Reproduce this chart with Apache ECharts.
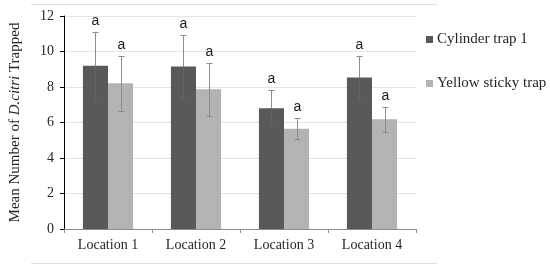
<!DOCTYPE html>
<html><head><meta charset="utf-8">
<script src="https://cdn.jsdelivr.net/npm/echarts@6/dist/echarts.min.js"></script>
<style>html,body{margin:0;padding:0;background:#fff}#c{width:550px;height:268px}</style>
</head><body><div id="c"></div>
<script>
const categories = ['Location 1', 'Location 2', 'Location 3', 'Location 4'];
const seriesNames = ['Cylinder trap 1', 'Yellow sticky trap'];
const cylinderMeans = [9.2, 9.16, 6.8, 8.53];
const cylinderErr = [1.92, 1.79, 1.01, 1.22];
const stickyMeans = [8.21, 7.87, 5.65, 6.18];
const stickyErr = [1.56, 1.5, 0.6, 0.7];
const sigLetters1 = ['a', 'a', 'a', 'a'];
const sigLetters2 = ['a', 'a', 'a', 'a'];
const yTicks = { min: 0, max: 12, interval: 2 };

const colors = ['#595959', '#b3b3b3'];
const catGap = 0.43;
const serif = '"Liberation Serif", "Times New Roman", serif';

function errSeries(means, errs, letters, sign, innerColor) {
  return {
    type: 'custom',
    name: 'err' + sign,
    z: 5,
    data: means.map((m, i) => [i, m, errs[i], letters[i]]),
    renderItem: function (params, api) {
      const i = api.value(0), m = api.value(1), e = api.value(2);
      const catW = api.size([1, 0])[0];
      const barW = catW * (1 - catGap) / 2;
      const c = api.coord([i, m]);
      const x = Math.round(c[0] + sign * barW / 2) + 0.5;
      const mid = c[1];
      const top = Math.round(api.coord([i, m + e])[1]) + 0.5;
      const bot = Math.round(api.coord([i, m - e])[1]) + 0.5;
      const cap = 3;
      const st = { stroke: '#8c8c8c', lineWidth: 1 };
      const st2 = { stroke: innerColor, lineWidth: 1 };
      return {
        type: 'group',
        children: [
          { type: 'line', shape: { x1: x, y1: top, x2: x, y2: mid }, style: st },
          { type: 'line', shape: { x1: x, y1: mid, x2: x, y2: bot }, style: st2 },
          { type: 'line', shape: { x1: x - cap, y1: top, x2: x + cap, y2: top }, style: st },
          { type: 'line', shape: { x1: x - cap, y1: bot, x2: x + cap, y2: bot }, style: st2 },
          { type: 'text', style: { text: api.value(3), x: x, y: top - 4, textAlign: 'center', textVerticalAlign: 'bottom', font: '14px "Liberation Sans", Arial, sans-serif', fill: '#1a1a1a' } }
        ]
      };
    }
  };
}

const chart = echarts.init(document.getElementById('c'), null, { renderer: 'canvas' });
chart.setOption({
  animation: false,
  backgroundColor: '#fff',
  grid: { left: 63, right: 134, top: 16, bottom: 39 },
  legend: {
    orient: 'vertical', left: 421, top: 27, itemWidth: 7, itemHeight: 7, itemGap: 29,
    icon: 'rect',
    data: seriesNames,
    textStyle: { fontFamily: serif, fontSize: 15, color: '#262626', padding: [0, 0, 0, -1] }
  },
  xAxis: {
    type: 'category', data: categories,
    axisLine: { lineStyle: { color: '#8c8c8c' } },
    axisTick: { show: true, length: 4, lineStyle: { color: '#8c8c8c' } },
    axisLabel: { fontFamily: serif, fontSize: 14, color: '#262626', margin: 9 }
  },
  yAxis: {
    type: 'value', min: yTicks.min, max: yTicks.max, interval: yTicks.interval,
    name: '{n|Mean Number of }{i|D.citri}{n| Trapped}',
    nameLocation: 'middle', nameGap: 41, nameRotate: 90,
    nameTextStyle: { rich: { n: { fontFamily: serif, fontSize: 15, color: '#262626' }, i: { fontFamily: serif, fontSize: 15, fontStyle: 'italic', color: '#262626' } } },
    axisLine: { show: true, lineStyle: { color: '#000' } },
    axisTick: { show: true, length: 4, lineStyle: { color: '#000' } },
    axisLabel: { fontFamily: serif, fontSize: 14, color: '#262626', margin: 10 },
    splitLine: { lineStyle: { color: '#e3e3e3' } }
  },
  series: [
    { type: 'bar', name: seriesNames[0], data: cylinderMeans, itemStyle: { color: colors[0] }, barGap: '0%', barCategoryGap: (catGap * 100) + '%' },
    { type: 'bar', name: seriesNames[1], data: stickyMeans, itemStyle: { color: colors[1] }, barGap: '0%', barCategoryGap: (catGap * 100) + '%' },
    errSeries(cylinderMeans, cylinderErr, sigLetters1, -1, '#636363'),
    errSeries(stickyMeans, stickyErr, sigLetters2, 1, '#8c8c8c')
  ],
  graphic: [
    { type: 'line', shape: { x1: 31, y1: 4.5, x2: 437, y2: 4.5 }, style: { stroke: '#e0e0e0', lineWidth: 1 } },
    { type: 'line', shape: { x1: 31, y1: 263.5, x2: 437, y2: 263.5 }, style: { stroke: '#e0e0e0', lineWidth: 1 } }
  ]
});
</script></body></html>
